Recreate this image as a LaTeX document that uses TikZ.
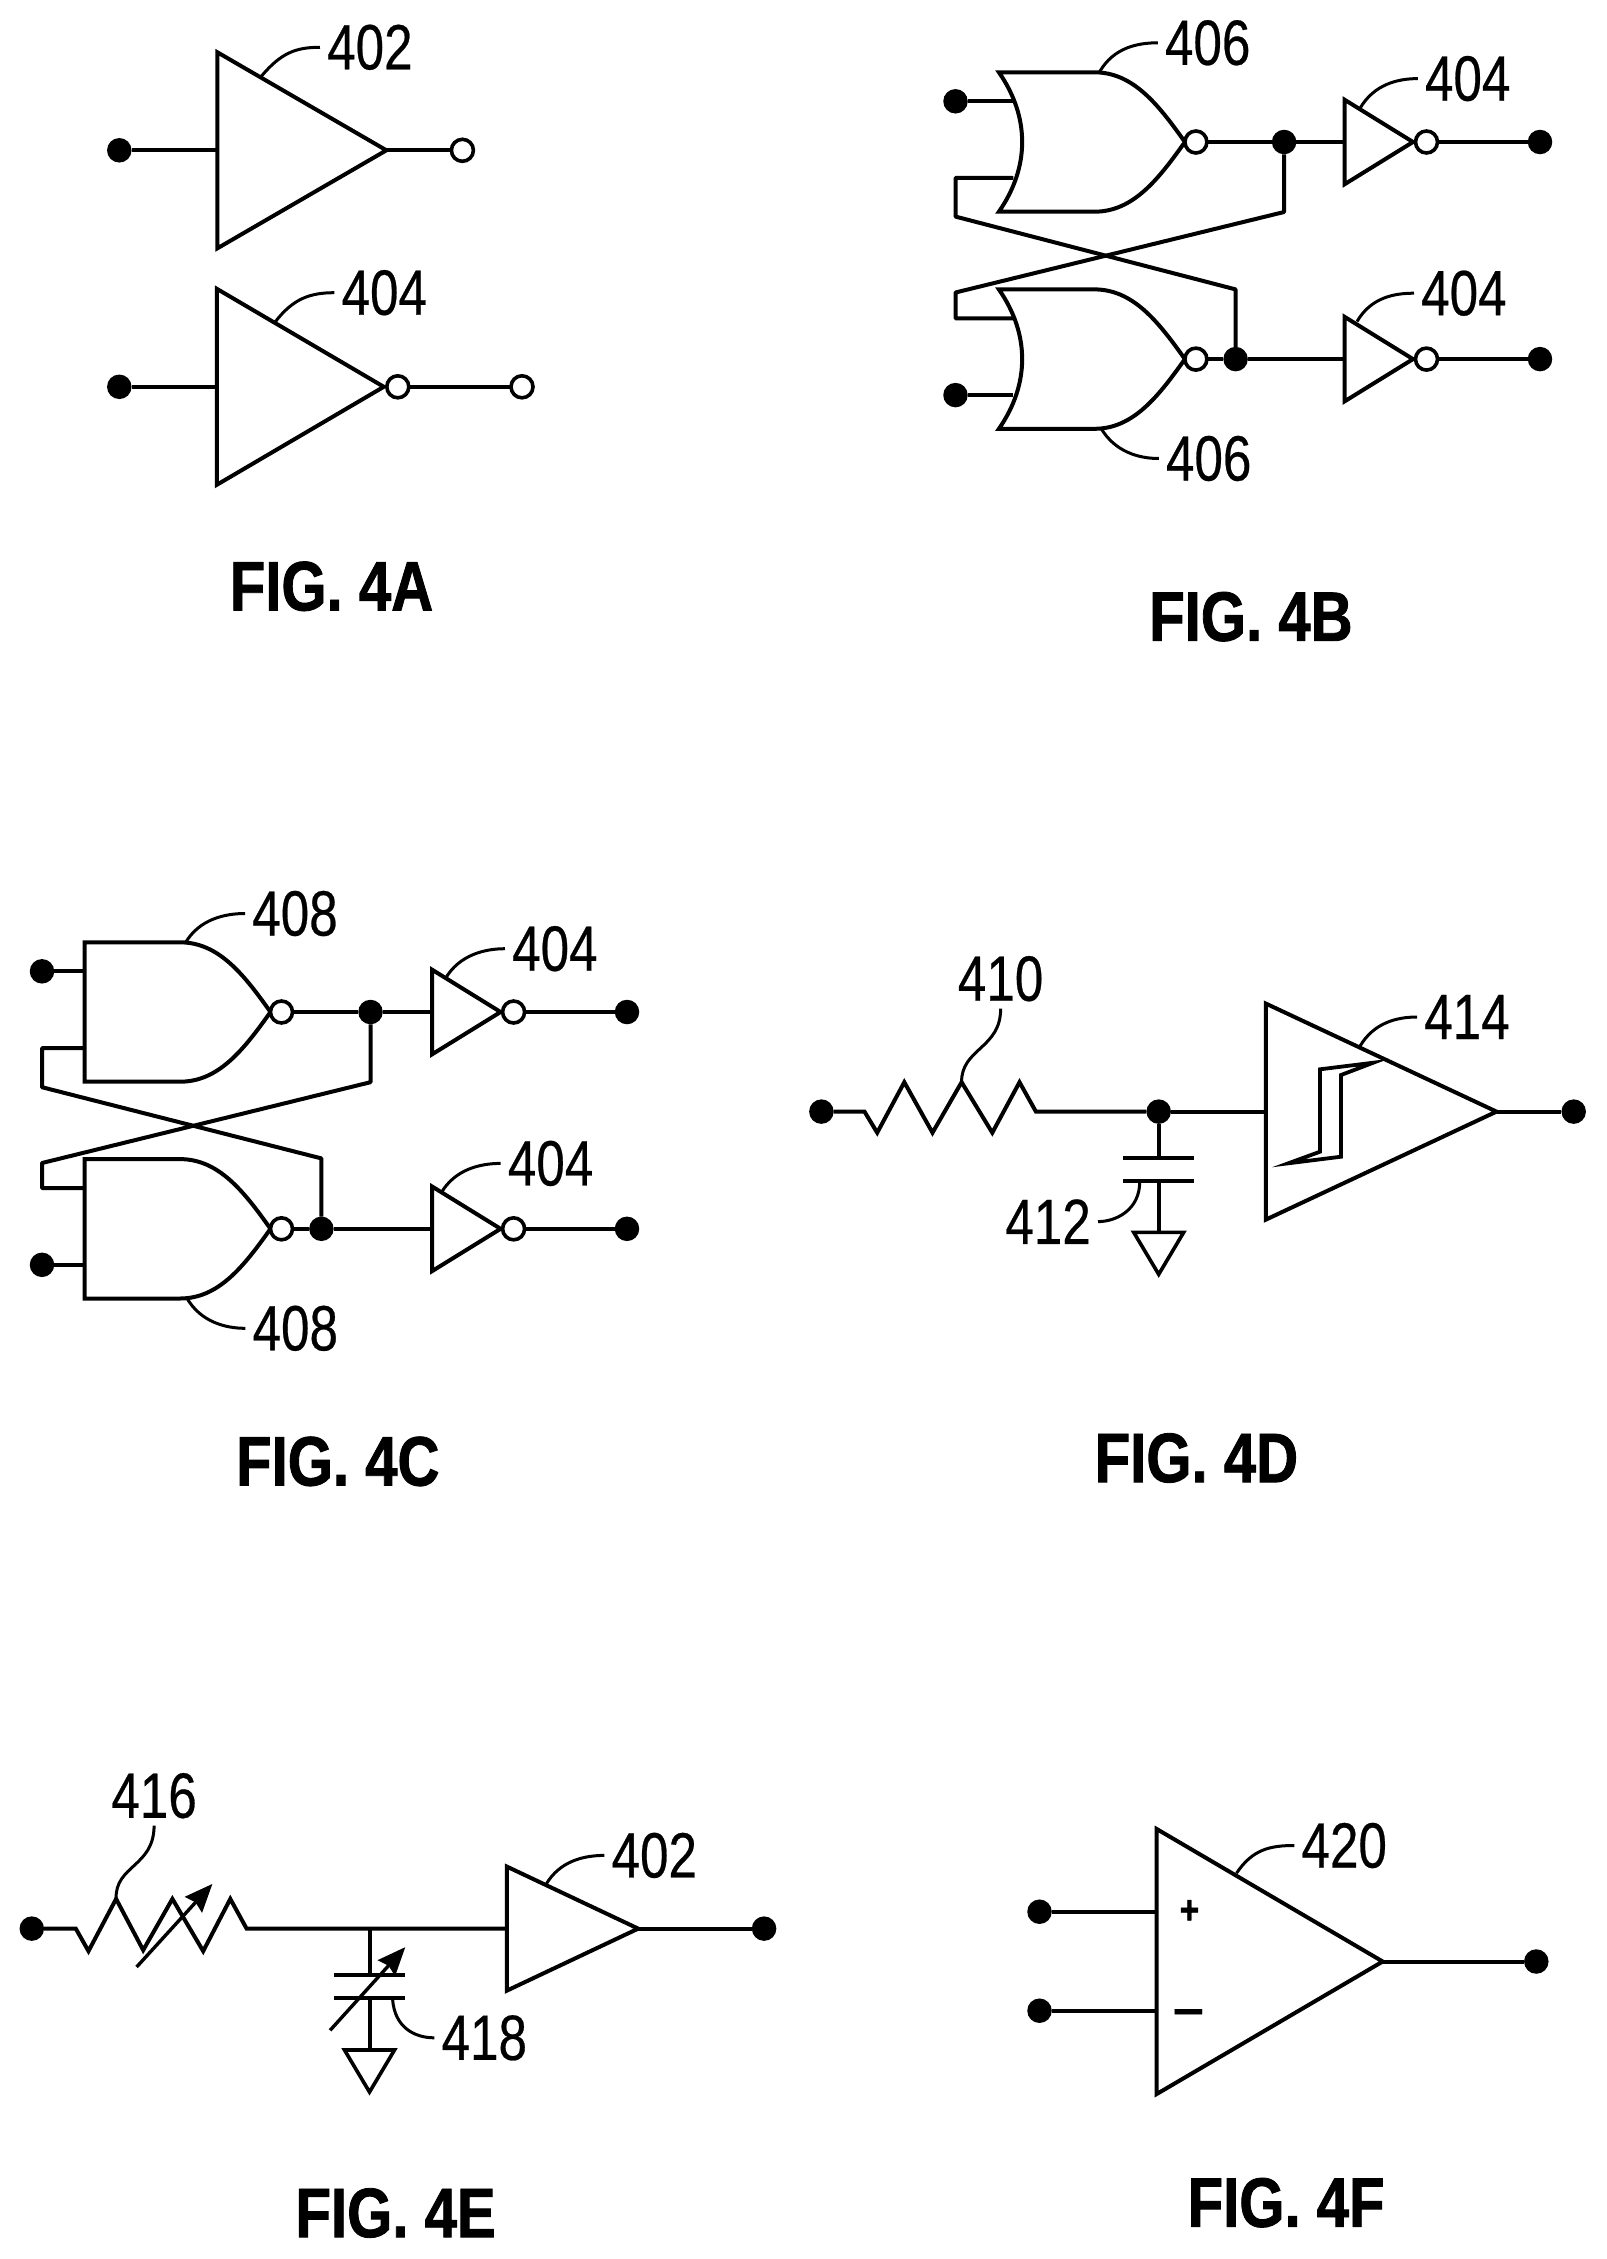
\documentclass[tikz,border=0pt]{standalone}
\usepackage{fontspec}
\usetikzlibrary{shapes.geometric, arrows.meta, positioning}
\newfontfamily\reffont[FakeStretch=0.8, FakeBold=0.4]{Liberation Sans}
\newfontfamily\figfont[FakeStretch=0.83, FakeBold=1.2]{Liberation Sans}
\tikzstyle{wire} = [draw, line width=4pt]
\tikzstyle{leader} = [draw, line width=3pt]
\tikzstyle{vararrow} = [draw, line width=3.4pt, -{Stealth[length=28pt, width=23pt, inset=3pt]}]
\tikzstyle{term} = [circle, fill=black, minimum size=24.5pt, inner sep=0pt, outer sep=0pt]
\tikzstyle{openterm} = [circle, draw, fill=white, line width=3.6pt, minimum size=22pt, inner sep=0pt, outer sep=0pt]
\tikzstyle{bubble} = [openterm]
\tikzstyle{buffer} = [isosceles triangle, isosceles triangle stretches, draw, line width=4pt, inner sep=0pt, outer sep=0pt, anchor=apex]
\tikzstyle{smallbuf} = [buffer, minimum width=84.6pt, minimum height=68.5pt]
\tikzstyle{ground} = [isosceles triangle, isosceles triangle stretches, shape border rotate=-90, draw, line width=3.6pt, inner sep=0pt, outer sep=0pt, minimum width=50pt, minimum height=42pt, anchor=lower side]
\tikzstyle{reflabel} = [inner sep=7pt, font=\reffont\fontsize{64}{70}\selectfont]
\tikzstyle{figlabel} = [inner sep=0pt, font=\figfont\bfseries\fontsize{70}{80}\selectfont]
\tikzstyle{sign} = [inner sep=0pt, font=\figfont\bfseries\fontsize{40}{44}\selectfont]
\tikzstyle{signthin} = [inner sep=0pt, font=\reffont\fontsize{70}{74}\selectfont]
\newcommand{\norgate}[2]{
  \begin{scope}[shift={#1}]
    \path [wire] (0,-69.7) -- (95.5,-69.7) .. controls (134,-69.7) and (159,-38) .. (186,0) .. controls (159,38) and (134,69.7) .. (95.5,69.7) -- (0,69.7) .. controls (31,25) and (31,-25) .. cycle;
    \coordinate (#2in1) at (14,-40.7);
    \coordinate (#2in2) at (14.5,36);
    \coordinate (#2out) at (186,0);
  \end{scope}}
\newcommand{\nandgate}[2]{
  \begin{scope}[shift={#1}]
    \path [wire] (0,-69.7) -- (95.5,-69.7) .. controls (134,-69.7) and (159,-38) .. (186,0) .. controls (159,38) and (134,69.7) .. (95.5,69.7) -- (0,69.7) -- cycle;
    \coordinate (#2in1) at (0,-40.7);
    \coordinate (#2in2) at (0,36);
    \coordinate (#2out) at (186,0);
  \end{scope}}

\begin{document}
\begin{tikzpicture}[x=1pt, y=-1pt]
    \useasboundingbox (0,0) rectangle (1606,2259);

    % FIG. 4A
    \node [buffer, minimum width=196pt, minimum height=169pt] (bufA) at (386.4,150.3) {};
    \node [term] (inA) at (119.3,150.3) {};
    \node [openterm] (outA) at (462.4,150.3) {};
    \node [buffer, minimum width=196pt, minimum height=167pt] (invA) at (383.8,386.8) {};
    \node [bubble, right=3pt of invA.apex] (invAbub) {};
    \node [term] (inAb) at (119.3,386.8) {};
    \node [openterm] (outAb) at (522,386.8) {};
    \coordinate (leadA) at (261,76.7);
    \coordinate (leadAb) at (274.8,322.5);
    \node [reflabel] (l402) at (369.9,47.3) {402};
    \node [reflabel] (l404) at (384.3,292.7) {404};
    \node [figlabel] (figA) at (331.5,586.3) {FIG. 4A};
    \path [wire] (inA) -- (bufA.lower side);
    \path [wire] (bufA.apex) -- (outA);
    \path [wire] (inAb) -- (invA.lower side);
    \path [wire] (invAbub) -- (outAb);
    \path [leader] (leadA) .. controls +(20,-24) and +(-24,0) .. (l402.west);
    \path [leader] (leadAb) .. controls +(18,-24) and +(-24,0) .. (l404.west);

    % FIG. 4B
    \norgate{(998.9,142)}{norA}
    \norgate{(998.9,359.1)}{norB}
    \node [bubble, right=0pt of norAout] (bubBa) {};
    \node [bubble, right=0pt of norBout] (bubBb) {};
    \node [term] (inBa) at (955.5,101.3) {};
    \node [term] (inBb) at (955.5,395.1) {};
    \node [term] (jBa) at (1284.1,142) {};
    \node [term] (jBb) at (1235.6,359.1) {};
    \node [smallbuf] (invBa) at (1413,142) {};
    \node [smallbuf] (invBb) at (1413,359.1) {};
    \node [bubble, right=2.5pt of invBa.apex] (bubBc) {};
    \node [bubble, right=2.5pt of invBb.apex] (bubBd) {};
    \node [term] (outBa) at (1540,142) {};
    \node [term] (outBb) at (1540,359.1) {};
    \coordinate (crossBa) at (955.5,177.8);
    \coordinate (crossBb) at (955.5,216.6);
    \coordinate (crossBc) at (1235.6,289.4);
    \coordinate (crossBd) at (1284.1,212);
    \coordinate (crossBe) at (955.5,292.5);
    \coordinate (crossBf) at (955.5,318.4);
    \coordinate (leadBa) at (1099.8,71.5);
    \coordinate (leadBb) at (1100.8,427.9);
    \coordinate (leadBc) at (1360,108.3);
    \coordinate (leadBd) at (1357,321.5);
    \node [reflabel] (l406a) at (1207.7,42.8) {406};
    \node [reflabel] (l406b) at (1208.7,458.5) {406};
    \node [reflabel] (l404a) at (1467.7,78.6) {404};
    \node [reflabel] (l404b) at (1463.9,293.2) {404};
    \node [figlabel] (figB) at (1250.9,616.7) {FIG. 4B};
    \path [wire] (inBa) -- (norAin1);
    \path [wire] (inBb) -- (norBin2);
    \path [wire] (bubBa) -- (jBa);
    \path [wire] (jBa) -- (invBa.lower side);
    \path [wire] (bubBb) -- (jBb);
    \path [wire] (jBb) -- (invBb.lower side);
    \path [wire] (bubBc) -- (outBa);
    \path [wire] (bubBd) -- (outBb);
    \path [wire, line join=bevel] (norAin2) -- (crossBa) -- (crossBb) -- (crossBc) -- (jBb);
    \path [wire, line join=bevel] (jBa) -- (crossBd) -- (crossBe) -- (crossBf) -- (norBin1);
    \path [leader] (leadBa) .. controls +(14,-24) and +(-20,0) .. (l406a.west);
    \path [leader] (leadBb) .. controls +(14,24) and +(-20,0) .. (l406b.west);
    \path [leader] (leadBc) .. controls +(14,-24) and +(-20,0) .. (l404a.west);
    \path [leader] (leadBd) .. controls +(14,-24) and +(-20,0) .. (l404b.west);

    % FIG. 4C
    \nandgate{(84.5,1012)}{nandA}
    \nandgate{(84.5,1228.8)}{nandB}
    \node [bubble, right=0pt of nandAout] (bubCa) {};
    \node [bubble, right=0pt of nandBout] (bubCb) {};
    \node [term] (inCa) at (42,971.3) {};
    \node [term] (inCb) at (42,1264.8) {};
    \node [term] (jCa) at (370.5,1012) {};
    \node [term] (jCb) at (321.4,1228.8) {};
    \node [smallbuf] (invCa) at (500.6,1012) {};
    \node [smallbuf] (invCb) at (500.6,1228.8) {};
    \node [bubble, right=2pt of invCa.apex] (bubCc) {};
    \node [bubble, right=2pt of invCb.apex] (bubCd) {};
    \node [term] (outCa) at (627,1012) {};
    \node [term] (outCb) at (627,1228.8) {};
    \coordinate (crossCa) at (42,1048);
    \coordinate (crossCb) at (42,1087.2);
    \coordinate (crossCc) at (321.4,1158.4);
    \coordinate (crossCd) at (370.5,1082.2);
    \coordinate (crossCe) at (42,1163);
    \coordinate (crossCf) at (42,1188.1);
    \coordinate (leadCa) at (185.3,943);
    \coordinate (leadCb) at (186.8,1298);
    \coordinate (leadCc) at (445.3,978.7);
    \coordinate (leadCd) at (441.1,1193);
    \node [reflabel] (l408a) at (295,913.5) {408};
    \node [reflabel] (l408b) at (295.3,1328.3) {408};
    \node [reflabel] (l404c) at (554.9,948.7) {404};
    \node [reflabel] (l404d) at (550.6,1163.4) {404};
    \node [figlabel] (figC) at (337.8,1461.4) {FIG. 4C};
    \path [wire] (inCa) -- (nandAin1);
    \path [wire] (inCb) -- (nandBin2);
    \path [wire] (bubCa) -- (jCa);
    \path [wire] (jCa) -- (invCa.lower side);
    \path [wire] (bubCb) -- (jCb);
    \path [wire] (jCb) -- (invCb.lower side);
    \path [wire] (bubCc) -- (outCa);
    \path [wire] (bubCd) -- (outCb);
    \path [wire, line join=bevel] (nandAin2) -- (crossCa) -- (crossCb) -- (crossCc) -- (jCb);
    \path [wire, line join=bevel] (jCa) -- (crossCd) -- (crossCe) -- (crossCf) -- (nandBin1);
    \path [leader] (leadCa) .. controls +(14,-24) and +(-20,0) .. (l408a.west);
    \path [leader] (leadCb) .. controls +(14,24) and +(-20,0) .. (l408b.west);
    \path [leader] (leadCc) .. controls +(14,-24) and +(-20,0) .. (l404c.west);
    \path [leader] (leadCd) .. controls +(14,-24) and +(-20,0) .. (l404d.west);

    % FIG. 4D
    \node [term] (inD) at (821.4,1111.6) {};
    \node [term] (jD) at (1158.7,1111.6) {};
    \node [buffer, minimum width=216pt, minimum height=230.6pt] (bufD) at (1496.5,1111.6) {};
    \node [term] (outD) at (1573.7,1111.6) {};
    \coordinate (resDa) at (864.5,1111.6);
    \coordinate (resDb) at (1035.9,1111.6);
    \coordinate (capDa) at (1158.7,1158.2);
    \coordinate (capDb) at (1158.7,1181);
    \node [ground] (gndD) at (1158.7,1232.3) {};
    \coordinate (leadDa) at (961.6,1082.2);
    \coordinate (leadDb) at (1139.7,1181.9);
    \coordinate (leadDc) at (1359.8,1046.5);
    \node [reflabel] (l410) at (1000.6,978.7) {410};
    \node [reflabel] (l412) at (1048.1,1221.6) {412};
    \node [reflabel] (l414) at (1467,1017) {414};
    \node [figlabel] (figD) at (1196.4,1458) {FIG. 4D};
    \path [wire] (inD) -- (resDa) -- (877.2,1132.7) -- (904.3,1082.2) -- (932.5,1132.7) -- (961.6,1082.2) -- (992.3,1132.7) -- (1019.5,1082.2) -- (resDb) -- (jD);
    \path [wire] (jD) -- (bufD.lower side);
    \path [wire] (bufD.apex) -- (outD);
    \path [wire] (jD) -- (capDa);
    \path [wire] ([xshift=-35.3pt]capDa) -- ([xshift=35.3pt]capDa);
    \path [wire] ([xshift=-35.3pt]capDb) -- ([xshift=35.3pt]capDb);
    \path [wire] (capDb) -- (gndD.lower side);
    \path [wire, line width=3.8pt] (1373.3,1062.7) -- (1320,1069.3) -- (1320,1151.7) -- (1288.3,1163.3) -- (1341,1156.7) -- (1341,1075) -- cycle;
    \path [leader] (leadDa) .. controls (961,1048.5) and (1001,1048.5) .. (l410.south);
    \path [leader] (leadDb) .. controls +(0,28) and +(18,0) .. (l412.east);
    \path [leader] (leadDc) .. controls +(14,-24) and +(-20,0) .. (l414.west);

    % FIG. 4E
    \node [term] (inE) at (31.8,1928.6) {};
    \node [buffer, minimum width=124pt, minimum height=131.3pt] (bufE) at (638.2,1928.6) {};
    \node [term] (outE) at (764.1,1928.6) {};
    \coordinate (resEa) at (75.8,1928.6);
    \coordinate (resEb) at (246.6,1928.6);
    \coordinate (jE) at (369.5,1928.6);
    \coordinate (capEa) at (369.5,1975.3);
    \coordinate (capEb) at (369.5,1997.5);
    \node [ground] (gndE) at (369.5,2050) {};
    \coordinate (leadEa) at (116.1,1898.9);
    \coordinate (leadEb) at (392.6,1999.3);
    \coordinate (leadEc) at (545.9,1884.6);
    \node [reflabel] (l416) at (154.1,1795.7) {416};
    \node [reflabel] (l418) at (484.3,2037.8) {418};
    \node [reflabel] (l402b) at (654.3,1855.4) {402};
    \node [figlabel] (figE) at (395.6,2213) {FIG. 4E};
    \path [wire] (inE) -- (resEa) -- (88.5,1951.1) -- (116.1,1898.9) -- (143.2,1950.1) -- (172.4,1898.9) -- (203.2,1951.1) -- (230.3,1898.9) -- (resEb) -- (bufE.lower side);
    \path [wire] (bufE.apex) -- (outE);
    \path [wire] (jE) -- (capEa);
    \path [wire] ([xshift=-35.3pt]capEa) -- ([xshift=35.3pt]capEa);
    \path [wire] ([xshift=-35.3pt]capEb) -- ([xshift=35.3pt]capEb);
    \path [wire] (capEb) -- (gndE.lower side);
    \path [vararrow] (136.6,1967) -- (212.4,1883.9);
    \path [vararrow] (330.1,2030.3) -- (405.3,1947.1);
    \path [leader] (leadEa) .. controls (115,1865) and (154,1867) .. (l416.south);
    \path [leader] (leadEb) .. controls +(2,28) and +(-20,0) .. (l418.west);
    \path [leader] (leadEc) .. controls +(14,-24) and +(-20,0) .. (l402b.west);

    % FIG. 4F
    \node [buffer, minimum width=265pt, minimum height=226pt] (amp) at (1382.7,1961.5) {};
    \node [term] (inFa) at (1039.5,1911.7) {};
    \node [term] (inFb) at (1039.5,2010.7) {};
    \node [term] (outF) at (1536.3,1961.5) {};
    \node [sign] (plusF) at (1189.4,1911.7) {+};
    \node [signthin] (minusF) at (1188.4,2022) {−};
    \coordinate (leadF) at (1236.5,1873.2);
    \node [reflabel] (l420) at (1344.2,1845.5) {420};
    \node [figlabel] (figF) at (1286.1,2202.7) {FIG. 4F};
    \path [wire] (inFa) -- (inFa -| amp.lower side);
    \path [wire] (inFb) -- (inFb -| amp.lower side);
    \path [wire] (amp.apex) -- (outF);
    \path [leader] (leadF) .. controls +(16,-24) and +(-24,0) .. (l420.west);
\end{tikzpicture}
\end{document}
